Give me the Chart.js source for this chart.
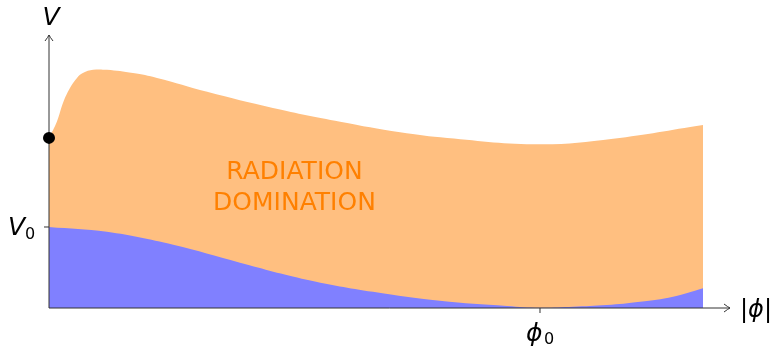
<!DOCTYPE html>
<html>
<head>
<meta charset="utf-8">
<script src="https://cdn.jsdelivr.net/npm/chart.js@4"></script>
<style>
  html, body { margin: 0; padding: 0; background: #fff; }
  #wrap { width: 770px; height: 347px; position: relative; }
</style>
</head>
<body>
<div id="wrap"><canvas id="potentialChart"></canvas></div>
<script>
'use strict';

// field value |phi| in units of phi0, potential in units of V0
const radPhi = [0, 0.016, 0.029, 0.043, 0.057, 0.069, 0.090, 0.118, 0.171, 0.22, 0.322, 0.456, 0.593, 0.715, 0.811, 1.0, 1.149, 1.332];
const radTop = [2.10, 2.30, 2.54, 2.72, 2.84, 2.90, 2.94, 2.94, 2.90, 2.84, 2.67, 2.47, 2.30, 2.17, 2.10, 2.02, 2.09, 2.26];

const potPhi = [0, 0.118, 0.253, 0.389, 0.525, 0.66, 0.796, 0.933, 1.0, 1.067, 1.136, 1.204, 1.271, 1.332];
const potV   = [1.0, 0.94, 0.78, 0.56, 0.35, 0.20, 0.09, 0.025, 0.003, 0.016, 0.037, 0.078, 0.14, 0.245];

const startPhi = [0];
const startV = [2.10];

const X_MAX = 1.387;
const Y_MAX = 3.37;

const COLORS = {
  orangeFill: 'rgb(255,191,128)',
  blueFill: 'rgb(128,128,255)',
  orangeText: 'rgb(255,128,0)',
  axis: '#333',
};

const toPoints = (xs, ys) => xs.map((x, i) => ({ x, y: ys[i] }));

// axes, arrows, ticks and labels drawn on top of the fills, under the dot
const axesDecor = {
  id: 'axesDecor',
  afterDatasetDraw(chart, args) {
    if (args.index !== 1) return;
    const { ctx } = chart;
    const xs = chart.scales.x, ys = chart.scales.y;
    const x0 = xs.getPixelForValue(0), y0 = ys.getPixelForValue(0);
    const xEnd = xs.getPixelForValue(X_MAX), yEnd = ys.getPixelForValue(Y_MAX);
    ctx.save();
    ctx.strokeStyle = COLORS.axis;
    ctx.lineWidth = 1;
    ctx.beginPath();
    ctx.moveTo(x0, y0); ctx.lineTo(xEnd, y0);
    ctx.moveTo(x0, y0); ctx.lineTo(x0, yEnd);
    // arrow heads
    ctx.moveTo(xEnd - 6, y0 - 4); ctx.quadraticCurveTo(xEnd - 2, y0 - 1, xEnd, y0);
    ctx.quadraticCurveTo(xEnd - 2, y0 + 1, xEnd - 6, y0 + 4);
    ctx.moveTo(x0 - 4, yEnd + 6); ctx.quadraticCurveTo(x0 - 1, yEnd + 2, x0, yEnd);
    ctx.quadraticCurveTo(x0 + 1, yEnd + 2, x0 + 4, yEnd + 6);
    // ticks at V0 and phi0
    const yV0 = ys.getPixelForValue(1), xP0 = xs.getPixelForValue(1);
    ctx.moveTo(x0 - 5, yV0); ctx.lineTo(x0, yV0);
    ctx.moveTo(xP0, y0); ctx.lineTo(xP0, y0 + 5);
    ctx.stroke();

    ctx.fillStyle = '#000';
    ctx.textBaseline = 'alphabetic';
    const italic = 'italic 25px "DejaVu Sans"';
    const upright = '16px "DejaVu Sans"';

    // V at top of the y axis
    ctx.font = italic;
    ctx.textAlign = 'center';
    ctx.fillText('V', x0 + 2, yEnd - 10);

    // V0 at the tick
    ctx.textAlign = 'left';
    ctx.font = italic;
    ctx.fillText('V', 8, yV0 + 8);
    ctx.font = upright;
    ctx.fillText('0', 25, yV0 + 12);

    // phi0 under the tick
    ctx.font = italic;
    ctx.fillText('\u03D5', xP0 - 14, y0 + 33);
    ctx.font = upright;
    ctx.fillText('0', xP0 + 4, y0 + 36);

    // |phi| at the end of the x axis
    ctx.font = 'italic 24px "DejaVu Sans"';
    ctx.fillText('|\u03D5|', xEnd + 10, y0 + 9);

    // region label
    ctx.fillStyle = COLORS.orangeText;
    ctx.font = '25px "DejaVu Sans"';
    ctx.textAlign = 'center';
    ctx.textBaseline = 'middle';
    const lx = xs.getPixelForValue(0.5);
    ctx.fillText('RADIATION', lx, ys.getPixelForValue(1.67));
    ctx.fillText('DOMINATION', lx, ys.getPixelForValue(1.285));
    ctx.restore();
  }
};

new Chart(document.getElementById('potentialChart').getContext('2d'), {
  type: 'line',
  data: {
    datasets: [
      {
        label: 'start',
        data: toPoints(startPhi, startV),
        showLine: false,
        pointRadius: 6,
        pointBackgroundColor: '#000',
        pointBorderWidth: 0,
        clip: false,
      },
      {
        label: 'V',
        data: toPoints(potPhi, potV),
        borderWidth: 0,
        borderColor: 'rgba(0,0,0,0)',
        backgroundColor: COLORS.blueFill,
        fill: 'origin',
        pointRadius: 0,
        tension: 0.4,
      },
      {
        label: 'radiation',
        data: toPoints(radPhi, radTop),
        borderWidth: 0,
        borderColor: 'rgba(0,0,0,0)',
        backgroundColor: COLORS.orangeFill,
        fill: 'origin',
        pointRadius: 0,
        tension: 0.4,
      },
    ]
  },
  options: {
    responsive: true,
    maintainAspectRatio: false,
    animation: false,
    layout: { padding: { left: 49, right: 40, top: 35, bottom: 39 } },
    plugins: { legend: { display: false }, tooltip: { enabled: false } },
    scales: {
      x: { type: 'linear', min: 0, max: X_MAX, display: false },
      y: { type: 'linear', min: 0, max: Y_MAX, display: false },
    },
  },
  plugins: [axesDecor],
});
</script>
</body>
</html>
